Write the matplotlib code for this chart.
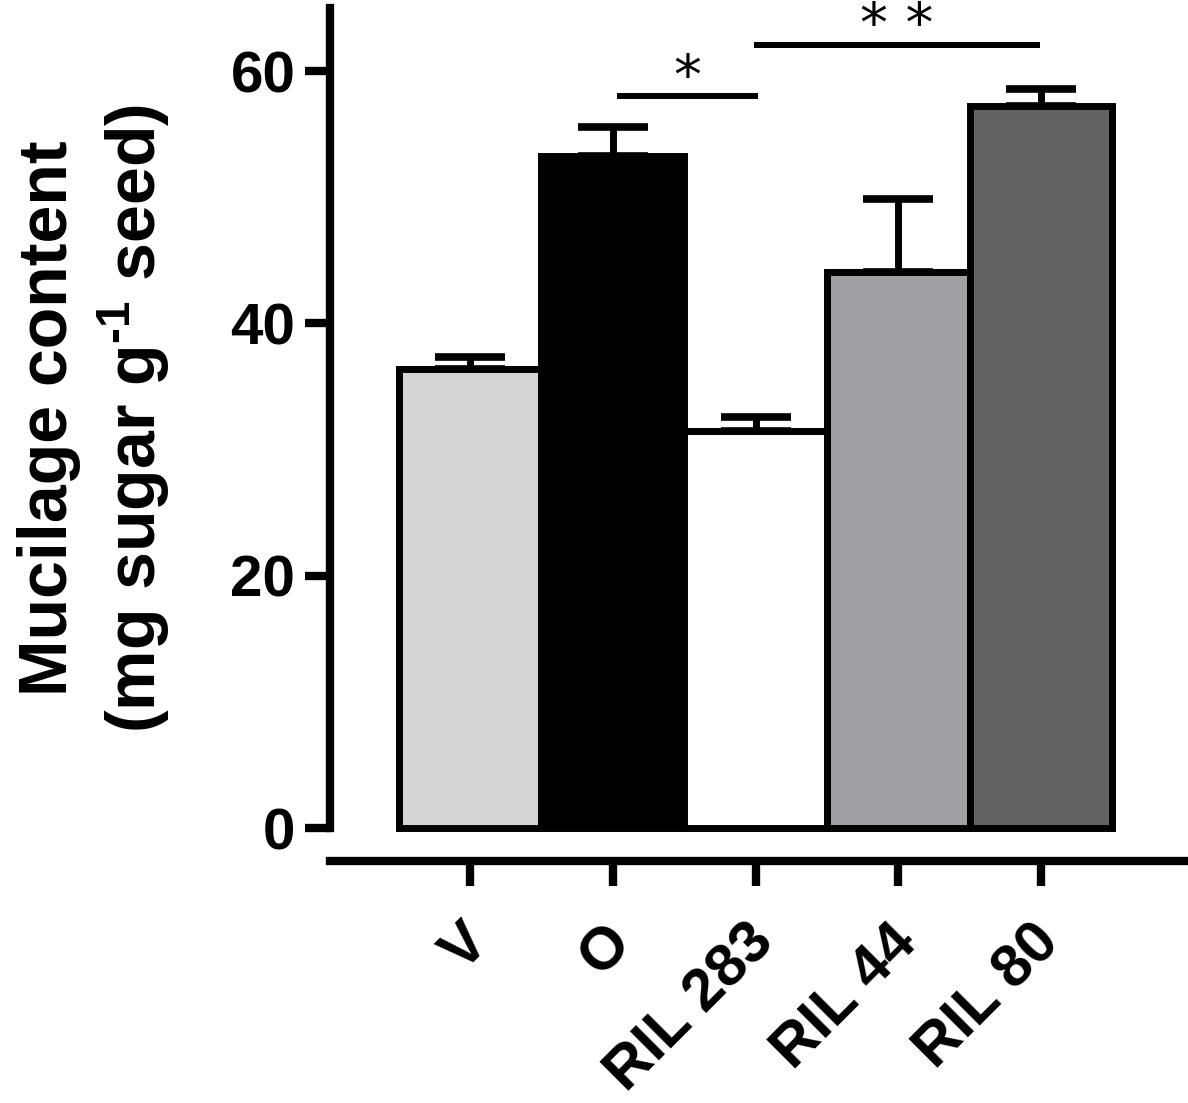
import matplotlib
matplotlib.use("Agg")
from matplotlib import pyplot as plt
import matplotlib.transforms as mtransforms
import numpy as np

plt.rcParams['font.family'] = ['Liberation Sans', 'DejaVu Sans']
plt.rcParams['font.weight'] = 'bold'
plt.rcParams['axes.labelweight'] = 'bold'
plt.rcParams['mathtext.fontset'] = 'custom'
plt.rcParams['mathtext.rm'] = 'Liberation Sans:bold'
plt.rcParams['mathtext.bf'] = 'Liberation Sans:bold'
plt.rcParams['mathtext.default'] = 'bf'

# data
lines = ["V", "O", "RIL 283", "RIL 44", "RIL 80"]
mucilage = [36.4, 53.3, 31.5, 44.1, 57.2]
sem = [0.9, 2.3, 1.1, 5.8, 1.4]
colors = ["#d4d4d4", "#000000", "#ffffff", "#a0a0a4", "#626262"]

# significance brackets: (x start, x end, height, label)
sig_x0 = [1.03, 1.99]
sig_x1 = [2.02, 3.99]
sig_y = [58.0, 62.1]
sig_labels = ["*", "* *"]

fig = plt.figure(figsize=(11.88, 11.03), dpi=100)
ax = fig.add_axes([0.2778, 0.2493, 0.7222, 0.7434])

x = np.arange(len(lines))

bars = ax.bar(x, mucilage, width=1.0, color=colors, edgecolor="black",
              linewidth=5, zorder=3, clip_on=False)

ax.errorbar(x, mucilage, yerr=[np.zeros(len(sem)), sem], fmt="none",
            ecolor="black", elinewidth=5, capsize=25, capthick=5.5, zorder=2)

for x0, x1, y, lab in zip(sig_x0, sig_x1, sig_y, sig_labels):
    ax.plot([x0, x1], [y, y], color="black", lw=4.3, solid_capstyle="butt",
            clip_on=False)
    ax.text((x0 + x1) / 2, y + 0.2, lab, ha="center", va="baseline",
            fontsize=40, fontweight="normal", family="DejaVu Sans")

ax.spines["top"].set_visible(False)
ax.spines["right"].set_visible(False)
ax.spines["left"].set_linewidth(6)
ax.spines["bottom"].set_linewidth(6)
ax.spines["bottom"].set_position(("outward", 24))

ax.tick_params(axis="y", length=18, width=6, pad=7, labelsize=42)
ax.tick_params(axis="x", length=18, width=6, pad=20, labelsize=43)

ax.set_xlim(-0.981, 5.03)
ax.set_ylim(0, 65)
ax.set_yticks([0, 20, 40, 60])
ax.set_xticks(x)
ax.set_xticklabels(lines)

offset = mtransforms.ScaledTranslation(-7 / 72, 0, fig.dpi_scale_trans)
for lab in ax.get_xticklabels():
    lab.set_rotation(45)
    lab.set_ha("right")
    lab.set_va("top")
    lab.set_rotation_mode("anchor")
    lab.set_transform(lab.get_transform() + offset)

ax.set_ylabel("Mucilage content\n(mg sugar g$^{\\text{-}1}$ seed)", fontsize=49,
              fontweight="bold", linespacing=1.25, labelpad=42)

fig.savefig("out.png", dpi=100)
